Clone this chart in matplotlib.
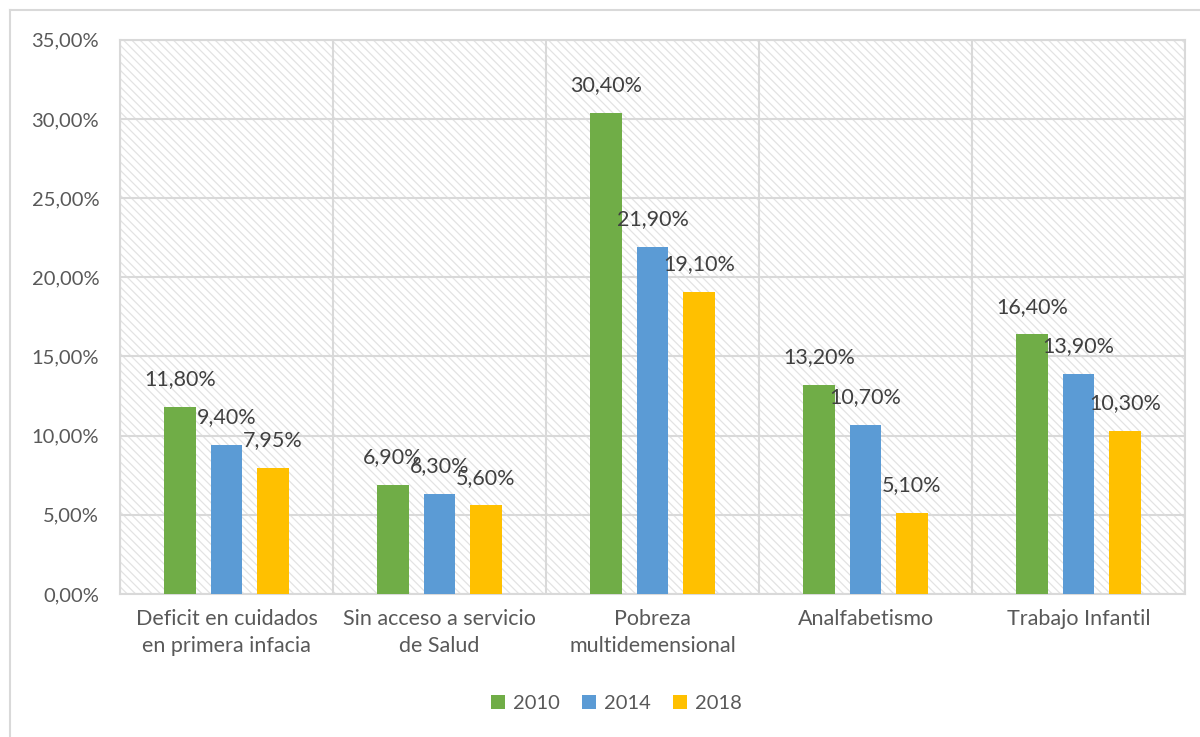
import numpy as np
import matplotlib
matplotlib.use('Agg')
import matplotlib.pyplot as plt
from matplotlib.lines import Line2D
from matplotlib.ticker import FuncFormatter

# datos
categorias = ['Deficit en cuidados\nen primera infacia', 'Sin acceso a servicio\nde Salud',
              'Pobreza\nmultidemensional', 'Analfabetismo', 'Trabajo Infantil']
anios = ['2010', '2014', '2018']
v2010 = [11.80, 6.90, 30.40, 13.20, 16.40]
v2014 = [9.40, 6.30, 21.90, 10.70, 13.90]
v2018 = [7.95, 5.60, 19.10, 5.10, 10.30]
colores = ['#70ad47', '#5b9bd5', '#ffc000']

plt.rcParams['font.family'] = ['Lato', 'DejaVu Sans']
plt.rcParams['hatch.linewidth'] = 0.9

fig = plt.figure(figsize=(12, 7.37), dpi=100)
ax = fig.add_axes([0.1, 0.194, 0.8875, 0.752])

# fondo rayado
ax.patch.set_facecolor('white')
ax.patch.set_hatch('\\\\\\\\')
ax.patch.set_edgecolor('#e3e3e3')
ax.patch.set_linewidth(0)

x = np.arange(len(categorias))
ancho = 0.15
desp = 0.218
series = [v2010, v2014, v2018]
for i, (vals, c, a) in enumerate(zip(series, colores, anios)):
    pos = x + (i - 1) * desp
    ax.bar(pos, vals, width=ancho, color=c, label=a, zorder=3)
    for px, v in zip(pos, vals):
        ax.text(px, v + 1.75, f'{v:.2f}'.replace('.', ',') + '%', ha='center', va='center',
                fontsize=15.5, color='#404040', zorder=4)

ax.set_xlim(-0.5, len(categorias) - 0.5)
ax.set_ylim(0, 35)
ax.set_yticks(np.arange(0, 36, 5))
ax.yaxis.set_major_formatter(FuncFormatter(lambda v, p: f'{v:.2f}'.replace('.', ',') + '%'))
ax.set_xticks(x)
ax.set_xticklabels(categorias, fontsize=15.5, color='#595959', linespacing=1.4)
ax.tick_params(axis='y', labelsize=14.5, labelcolor='#595959', length=0, pad=15)
ax.tick_params(axis='x', length=0, pad=11)

# rejilla
ax.set_xticks(np.arange(-0.5, len(categorias), 1), minor=True)
ax.grid(True, which='minor', axis='x', color='#d9d9d9', lw=1.5, zorder=1)
ax.grid(True, which='major', axis='y', color='#d9d9d9', lw=1.5, zorder=1)
ax.tick_params(which='minor', length=0)
for s in ax.spines.values():
    s.set_color('#d9d9d9')
    s.set_linewidth(1.5)

ax.legend(loc='upper center', bbox_to_anchor=(0.466, -0.15), ncol=3, frameon=False,
          fontsize=14.5, handlelength=0.7, handleheight=0.7, handletextpad=0.4,
          columnspacing=1.1, labelcolor='#595959')

# marco exterior
fig.add_artist(Line2D([10 / 1200, 10 / 1200], [0, 1 - 10 / 737], transform=fig.transFigure,
                      color='#d9d9d9', lw=1.5))
fig.add_artist(Line2D([10 / 1200, 1], [1 - 10 / 737, 1 - 10 / 737], transform=fig.transFigure,
                      color='#d9d9d9', lw=1.5))

fig.savefig('out.png', dpi=100)
